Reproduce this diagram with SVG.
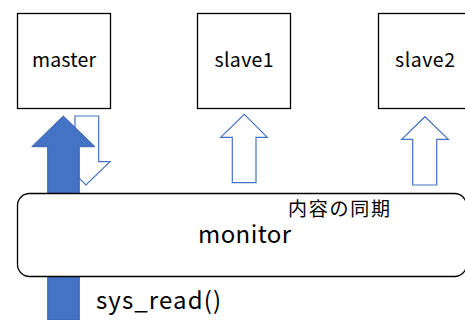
<svg xmlns="http://www.w3.org/2000/svg" width="465" height="320" viewBox="0 0 465 320">
<style>
.box{fill:#fff;stroke:#000;stroke-width:1.3}
.hollow{fill:#fff;stroke:#4472C4;stroke-width:1.2;stroke-linejoin:miter}
.solid{fill:#4472C4;stroke:#3A64B0;stroke-width:1}
.t{font-family:"Noto Sans CJK JP","Noto Sans",sans-serif;fill:#000}
</style>
<rect width="465" height="320" fill="#fff"/>
<g id="master">
<rect class="box" x="17.5" y="13.5" width="93" height="95"/>
<text class="t" x="64" y="67" font-size="19.5" text-anchor="middle" textLength="64">master</text>
</g>
<g id="slave1">
<rect class="box" x="197.5" y="13.5" width="93" height="95"/>
<text class="t" x="244" y="67" font-size="19.5" text-anchor="middle" textLength="59">slave1</text>
</g>
<g id="slave2">
<rect class="box" x="378.5" y="13.5" width="93" height="95"/>
<text class="t" x="425" y="67" font-size="19.5" text-anchor="middle" textLength="60">slave2</text>
</g>
<g id="connectors">
<polygon class="hollow" points="75,116 98.7,116 98.7,161.7 110,161.7 86,185 62,161.7 75,161.7"/>
<polygon class="solid" points="63.3,116 95,146.7 79.3,146.7 79.3,320 47.7,320 47.7,146.7 31.7,146.7"/>
<polygon class="hollow" points="244.3,114.3 267.3,137.3 256,137.3 256,182.7 232.3,182.7 232.3,137.3 220.7,137.3"/>
<polygon class="hollow" points="425,116.7 448.3,139.3 436.7,139.3 436.7,185 412.7,185 412.7,139.3 401.7,139.3"/>
</g>
<g id="monitor">
<rect class="box" x="17.5" y="193.5" width="449" height="83" rx="12" ry="12"/>
<text class="t" x="244.5" y="243" font-size="24" text-anchor="middle" textLength="93">monitor</text>
<text class="t" x="288" y="216" font-size="19" textLength="102">内容の同期</text>
</g>
<text class="t" x="96" y="309" font-size="24" textLength="125">sys_read()</text>
</svg>
